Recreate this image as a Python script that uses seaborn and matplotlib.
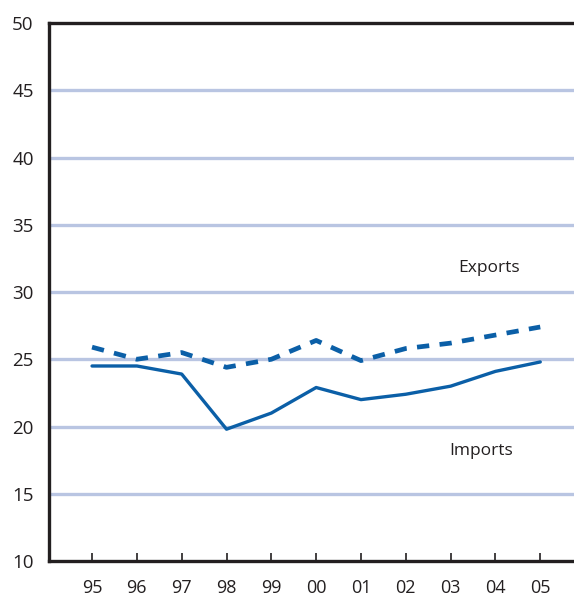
import pandas as pd
import seaborn as sns
import matplotlib.pyplot as plt

# data (percent)
years = ["95", "96", "97", "98", "99", "00", "01", "02", "03", "04", "05"]
imports = [24.5, 24.5, 23.9, 19.8, 21.0, 22.9, 22.0, 22.4, 23.0, 24.1, 24.8]
exports = [25.9, 25.0, 25.5, 24.4, 25.0, 26.4, 24.9, 25.8, 26.2, 26.8, 27.4]
y_ticks = [10, 15, 20, 25, 30, 35, 40, 45, 50]

df = pd.DataFrame(
    {
        "pos": list(range(len(years))) * 2,
        "value": imports + exports,
        "series": ["Imports"] * len(years) + ["Exports"] * len(years),
    }
)

sns.set_style("white")
plt.rcParams["font.family"] = ["Open Sans", "DejaVu Sans"]

fig = plt.figure(figsize=(5.74, 5.99), dpi=100)
ax = fig.add_axes([0.0854, 0.0634, 0.93, 0.8982])

blue = "#0b5fa7"
grid_col = "#b9c5e2"

# light horizontal rules
for v in y_ticks[1:-1]:
    ax.axhline(v, color=grid_col, lw=2.4, zorder=0)

sns.lineplot(
    data=df,
    x="pos",
    y="value",
    style="series",
    dashes={"Imports": "", "Exports": (2.6, 2.2)},
    color=blue,
    legend=False,
    ax=ax,
)
for line in ax.get_lines():
    if len(line.get_xdata()) != len(years):
        continue
    if line.get_linestyle() == "-":
        line.set_linewidth(2.4)
    else:
        line.set_linewidth(3.4)
        line.set_dash_capstyle("butt")

ax.set_xlim(-0.96, 10.95)
ax.set_ylim(10, 50)
ax.set_xticks(range(len(years)))
ax.set_xticklabels(years)
ax.set_yticks(y_ticks)
ax.set_xlabel("")
ax.set_ylabel("")

for side in ["left", "bottom", "top"]:
    ax.spines[side].set_visible(True)
    ax.spines[side].set_color("#231f20")
    ax.spines[side].set_linewidth(2.4)
ax.spines["right"].set_visible(False)

ax.tick_params(axis="x", direction="in", length=6, width=1.2, color="#231f20",
               pad=13, labelsize=13, labelcolor="#231f20", bottom=True)
ax.tick_params(axis="y", length=0, pad=11, labelsize=13.5, labelcolor="#231f20")

ax.text(8.86, 31.8, "Exports", ha="center", va="center", fontsize=12.5, color="#231f20")
ax.text(8.68, 18.2, "Imports", ha="center", va="center", fontsize=12.5, color="#231f20")

fig.savefig("out.png", dpi=100)
